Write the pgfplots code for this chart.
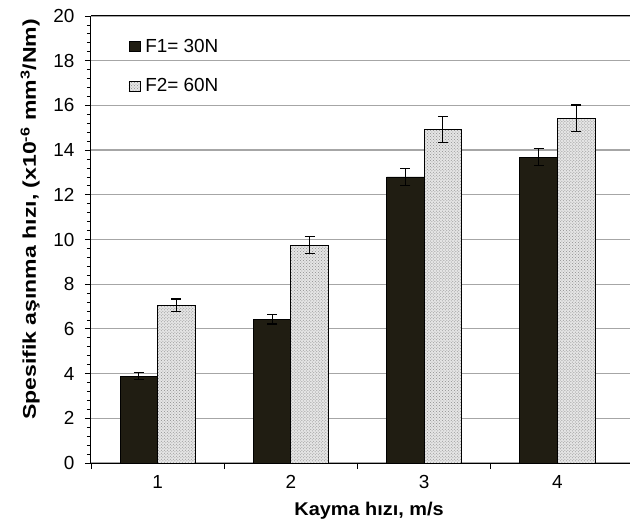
\documentclass[border=0pt]{standalone}
\usepackage{fontspec}
\setmainfont{Liberation Sans}
\usepackage{graphicx}
\usepackage{pgfplots}
\pgfplotsset{compat=1.18}
\usetikzlibrary{patterns}

\definecolor{fone}{HTML}{201D12}
\definecolor{gridgray}{HTML}{A6A6A6}

\begin{document}
\begin{tikzpicture}[x=1bp,y=1bp]
\begin{axis}[
  scale only axis,
  width=539bp, height=447bp,
  xmin=0.5, xmax=4.545,
  ymin=0, ymax=20,
  ybar=0pt, bar width=0.282,
  axis x line*=bottom, axis y line*=left,
  axis line style={black, line width=1bp},
  ytick={0,2,...,20},
  minor y tick num=4,
  ymajorgrids,
  grid style={gridgray, line width=1.2bp},
  tick align=outside,
  major tick length=6bp, minor tick length=4bp,
  tick style={black, line width=0.8bp},
  xtick={0.5,1.5,2.5,3.5},
  xticklabels={},
  extra x ticks={1,2,3,4},
  extra x tick labels={1,2,3,4},
  extra x tick style={major tick length=0pt, xmajorgrids=false,
    tick label style={yshift=-9bp}},
  ticklabel style={font=\fontsize{19}{21}\selectfont},
  y tick label style={xshift=-7bp},
  /pgf/number format/assume math mode=true,
  xlabel={\scalebox{1.08}[1]{\textbf{Kayma hızı, m/s}}},
  ylabel={\scalebox{1.25}[1]{\textbf{Spesifik aşınma hızı, (x10\textsuperscript{-6} mm\textsuperscript{3}/Nm)}}},
  label style={font=\fontsize{18.5}{20}\selectfont},
  x label style={at={(axis description cs:0.516,-0.107)}, anchor=center},
  y label style={at={(axis description cs:-0.113,0.545)}, anchor=center},
  legend style={draw=none, fill=none, at={(axis description cs:0.064,0.958)},
    anchor=north west, font=\fontsize{19}{21}\selectfont,
    row sep=21bp, legend cell align=left},
  legend image code/.code={\draw[#1, line width=0.6bp] (0bp,-5bp) rectangle (11bp,5bp);},
  error bars/error bar style={black, line width=1.1bp},
  error bars/error mark options={black, rotate=90, mark size=5bp, line width=1.1bp},
]
% F1 = 30 N
\addplot+[draw=black, line width=0.8bp, fill=fone,
  error bars/.cd, y dir=both, y explicit]
  coordinates {(1,3.88) +- (0,0.15) (2,6.43) +- (0,0.21) (3,12.80) +- (0,0.38) (4,13.69) +- (0,0.38)};
% F2 = 60 N
\addplot+[draw=black, line width=0.8bp, fill=gray!20,
  postaction={pattern=crosshatch dots, pattern color=gray!90},
  error bars/.cd, y dir=both, y explicit]
  coordinates {(1,7.06) +- (0,0.28) (2,9.74) +- (0,0.38) (3,14.92) +- (0,0.6) (4,15.42) +- (0,0.6)};
\legend{\hspace{3bp}F1= 30N, \hspace{3bp}F2= 60N}
\draw[black, line width=1bp] (rel axis cs:0,1) -- (rel axis cs:1,1);
\coordinate (ll) at (rel axis cs:0,0);
\coordinate (ur) at (rel axis cs:1,1);
\end{axis}
\pgfresetboundingbox
\useasboundingbox ([shift={(-91bp,-68bp)}]ll) rectangle ([shift={(0bp,16bp)}]ur);
\end{tikzpicture}
\end{document}
